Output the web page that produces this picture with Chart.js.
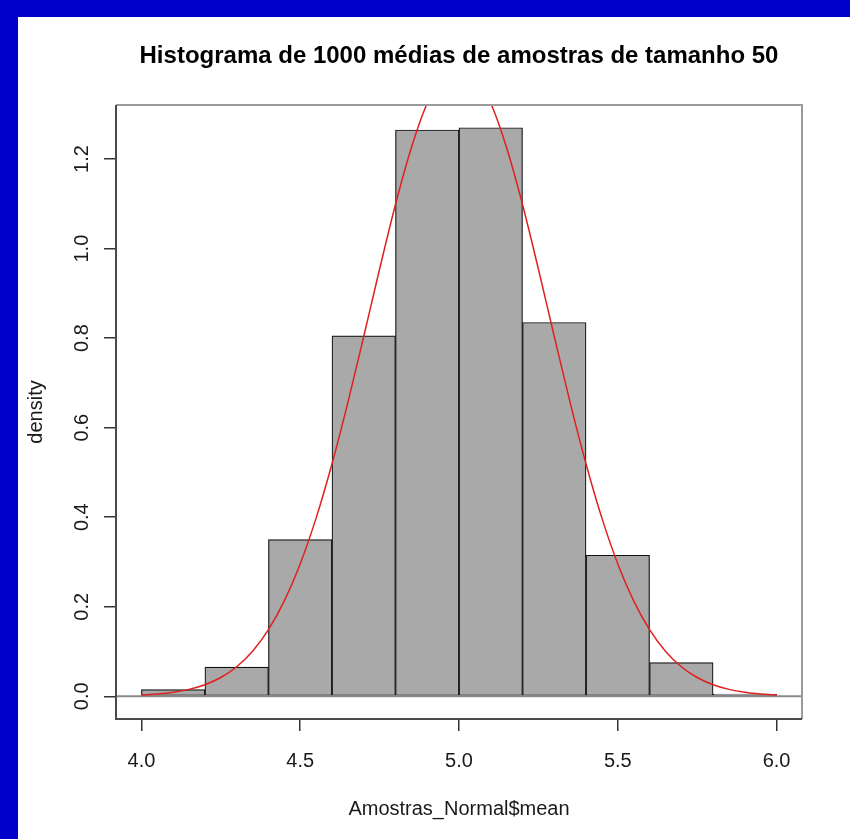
<!DOCTYPE html>
<html><head><meta charset="utf-8">
<script src="https://cdn.jsdelivr.net/npm/chart.js@4/dist/chart.umd.min.js"></script>
<style>
html,body{margin:0;padding:0;background:#0000CC;width:850px;height:839px;overflow:hidden;}
#wrap{position:absolute;left:18px;top:17px;width:832px;height:822px;background:#ffffff;}
canvas{display:block;}
</style></head><body>
<div id="wrap"><canvas id="c" width="832" height="822"></canvas></div>
<script>
const chartTitle = 'Histograma de 1000 médias de amostras de tamanho 50';
const xAxisTitle = 'Amostras_Normal$mean';
const yAxisTitle = 'density';

const binStarts = [4.0, 4.2, 4.4, 4.6, 4.8, 5.0, 5.2, 5.4, 5.6, 5.8];
const binEnds   = [4.2, 4.4, 4.6, 4.8, 5.0, 5.2, 5.4, 5.6, 5.8, 6.0];
const densities = [0.015, 0.065, 0.35, 0.805, 1.265, 1.27, 0.835, 0.315, 0.075, 0.005];

const curveX = [4.00,4.05,4.10,4.15,4.20,4.25,4.30,4.35,4.40,4.45,4.50,4.55,4.60,4.65,4.70,4.75,4.80,4.85,4.90,4.95,
                5.00,5.05,5.10,5.15,5.20,5.25,5.30,5.35,5.40,5.45,5.50,5.55,5.60,5.65,5.70,5.75,5.80,5.85,5.90,5.95,6.00];
const curveY = [0.0027,0.0050,0.0089,0.0154,0.0258,0.0419,0.0660,0.1006,0.1487,0.2130,0.2956,0.3979,0.5189,0.6559,0.8037,0.9544,1.0985,1.2254,1.3250,1.3886,
                1.4105,1.3886,1.3250,1.2254,1.0985,0.9544,0.8037,0.6559,0.5189,0.3979,0.2956,0.2130,0.1487,0.1006,0.0660,0.0419,0.0258,0.0154,0.0089,0.0050,0.0027];

const xTickValues = [4.0, 4.5, 5.0, 5.5, 6.0];
const xTickLabels = ['4.0', '4.5', '5.0', '5.5', '6.0'];
const yTickValues = [0, 0.2, 0.4, 0.6, 0.8, 1.0, 1.2];
const yTickLabels = ['0.0', '0.2', '0.4', '0.6', '0.8', '1.0', '1.2'];

const xRange = [3.92, 6.08];
const yRange = [-0.0508, 1.3208];

const FONT = 'Liberation Sans, Arial, Helvetica, sans-serif';

const framePlugin = {
  id: 'frame',
  afterDraw(chart) {
    const {ctx, chartArea: a, scales: {x, y}} = chart;
    ctx.save();
    // light box (top & right)
    ctx.strokeStyle = '#9a9a9a';
    ctx.lineWidth = 2;
    ctx.beginPath();
    ctx.moveTo(a.left, a.top); ctx.lineTo(a.right, a.top); ctx.lineTo(a.right, a.bottom);
    ctx.stroke();
    // darker left & bottom
    ctx.strokeStyle = '#4a4a4a';
    ctx.beginPath();
    ctx.moveTo(a.left, a.top); ctx.lineTo(a.left, a.bottom); ctx.lineTo(a.right, a.bottom);
    ctx.stroke();
    // rotated y tick labels
    ctx.fillStyle = '#1a1a1a';
    ctx.font = '20px ' + FONT;
    ctx.textAlign = 'center';
    ctx.textBaseline = 'middle';
    yTickValues.forEach((v, i) => {
      const py = y.getPixelForValue(v);
      ctx.save();
      ctx.translate(a.left - 34, py);
      ctx.rotate(-Math.PI / 2);
      ctx.fillText(yTickLabels[i], 0, 0);
      ctx.restore();
    });
    ctx.restore();
  }
};

new Chart(document.getElementById('c'), {
  type: 'bar',
  data: {
    datasets: [
      {
        type: 'line',
        label: 'normal',
        data: curveX.map((v, i) => ({x: v, y: curveY[i]})),
        borderColor: '#e02020',
        borderWidth: 1.5,
        pointRadius: 0,
        cubicInterpolationMode: 'monotone',
        fill: false,
        order: 1
      },
      {
        type: 'line',
        label: 'zero',
        data: [{x: xRange[0], y: 0}, {x: xRange[1], y: 0}],
        borderColor: '#8a8a8a',
        borderWidth: 2,
        pointRadius: 0,
        fill: false,
        order: 2
      },
      {
        type: 'bar',
        label: 'hist',
        data: binStarts.map((s, i) => ({x: (s + binEnds[i]) / 2, y: densities[i]})),
        backgroundColor: '#a9a9a9',
        borderColor: '#111111',
        borderWidth: 1.2,
        borderSkipped: false,
        barPercentage: 1,
        categoryPercentage: 1,
        order: 3
      }
    ]
  },
  options: {
    responsive: false,
    animation: false,
    devicePixelRatio: 1,
    layout: {padding: {left: 0, right: 48, top: 0, bottom: 0}},
    plugins: {
      legend: {display: false},
      tooltip: {enabled: false},
      title: {
        display: true,
        text: chartTitle,
        fullSize: false,
        color: '#000',
        font: {family: FONT, size: 24, weight: 'bold'},
        padding: {top: 24.5, bottom: 34.7}
      }
    },
    scales: {
      x: {
        type: 'linear',
        min: xRange[0],
        max: xRange[1],
        offset: false,
        afterBuildTicks: s => { s.ticks = xTickValues.map(v => ({value: v})); },
        ticks: {
          callback: (v, i) => xTickLabels[i],
          font: {family: FONT, size: 20},
          color: '#1a1a1a',
          padding: 18,
          maxRotation: 0,
          minRotation: 0,
          autoSkip: false
        },
        grid: {display: true, offset: false, drawOnChartArea: false, drawTicks: true, tickLength: 12, color: '#333', lineWidth: 1.5},
        border: {display: false},
        title: {display: true, text: xAxisTitle, color: '#1a1a1a', font: {family: FONT, size: 20}, padding: {top: 0, bottom: 18}},
        afterFit: s => { s.height = 120; }
      },
      y: {
        type: 'linear',
        min: yRange[0],
        max: yRange[1],
        afterBuildTicks: s => { s.ticks = yTickValues.map(v => ({value: v})); },
        ticks: {display: true, color: 'rgba(0,0,0,0)', font: {family: FONT, size: 20}},
        grid: {display: true, offset: false, drawOnChartArea: false, drawTicks: true, tickLength: 12, color: '#333', lineWidth: 1.5},
        border: {display: false},
        title: {display: true, text: yAxisTitle, color: '#1a1a1a', font: {family: FONT, size: 20}, padding: {top: 6, bottom: 0}},
        afterFit: s => { s.width = 98; }
      }
    }
  },
  plugins: [framePlugin]
});
</script>
</body></html>
